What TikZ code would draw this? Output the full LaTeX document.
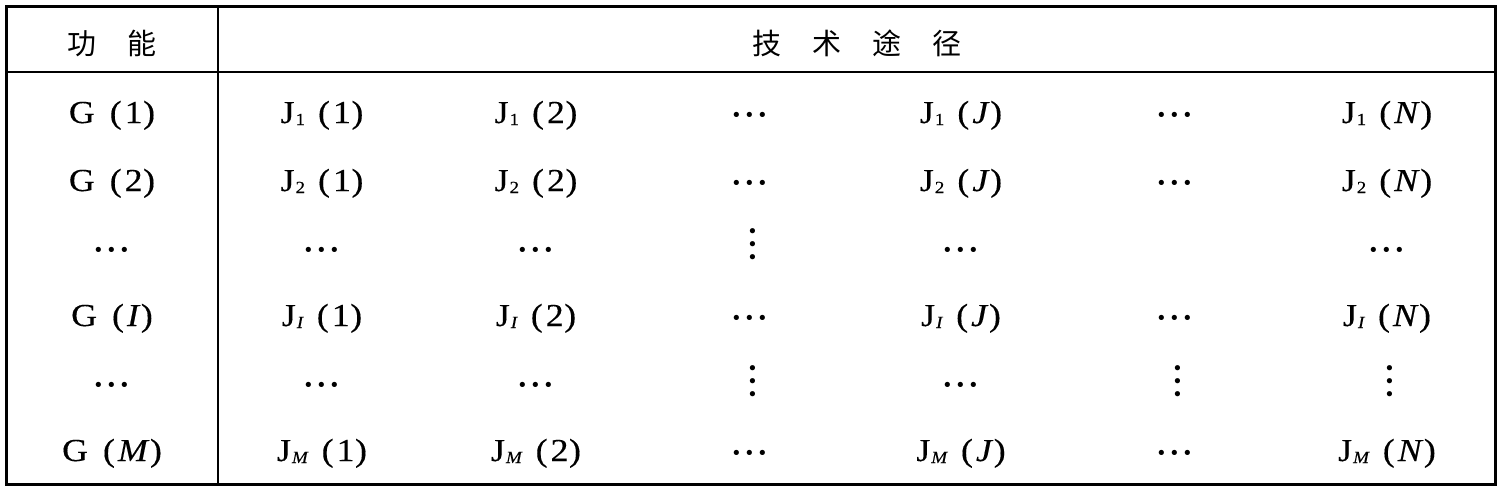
\documentclass[tikz,border=0pt]{standalone}
\usepackage{fontspec}
\setmainfont{Liberation Serif}[FakeStretch=1.12,FakeBold=0.3]
\newfontfamily\dotfont{Liberation Serif}
\newfontfamily\cjk{Noto Sans CJK SC}
\newcommand\Jcell[2]{J\hspace{1pt}\raisebox{-2pt}{\fontsize{17}{17}\selectfont #1}\hspace{13pt}(\hspace{3pt}#2\hspace{0.5pt})}
\newcommand\Gcell[1]{G\hspace{15pt}(\hspace{3pt}#1\hspace{0.5pt})}
\newcommand\hdd{\textperiodcentered\hspace{-1.6pt}\textperiodcentered\hspace{-1.6pt}\textperiodcentered}
\begin{document}
\begin{tikzpicture}[x=1pt,y=-1pt,
  cell/.style={inner sep=0pt,anchor=base,font=\fontsize{32}{32}\selectfont},
  hdots/.style={inner sep=0pt,anchor=center,font=\dotfont\fontsize{44}{44}\selectfont,text height=36pt,text depth=0pt},
  vdots/.style={hdots,rotate=90},
  head/.style={inner sep=0pt,font=\cjk\fontsize{29}{29}\selectfont}]
\useasboundingbox (0,0) rectangle (1502,490);
\fill[white] (0,0) rectangle (1502,490);
\coordinate (tl) at (6,6);
\coordinate (br) at (1495,484);
\coordinate (hl) at (6,72);
\coordinate (hr) at (1495,72);
\coordinate (vt) at (218,6);
\coordinate (vb) at (218,484);
\draw[line width=2pt] (hl) -- (hr);
\draw[line width=1.8pt] (vt) -- (vb);
\draw[line width=3pt] (tl) rectangle (br);
% header
\node[head] (h0) at (112,43) {功\hspace{32pt}能};
\node[head] (h1) at (857,43) {技\hspace{31pt}术\hspace{31pt}途\hspace{31pt}径};
% row 1 (baseline 123)
\node[cell] (r1c0) at (112,123) {\Gcell{1}};
\node[cell] (r1c1) at (322,123) {\Jcell{1}{1}};
\node[cell] (r1c2) at (536,123) {\Jcell{1}{2}};
\node[hdots] (r1c3) at (750,111) {\hdd};
\node[cell] (r1c4) at (961,123) {\Jcell{1}{\textit{J}}};
\node[hdots] (r1c5) at (1175,111) {\hdd};
\node[cell] (r1c6) at (1387,123) {\Jcell{1}{\textit{N}}};
% row 2 (baseline 191)
\node[cell] (r2c0) at (112,191) {\Gcell{2}};
\node[cell] (r2c1) at (322,191) {\Jcell{2}{1}};
\node[cell] (r2c2) at (536,191) {\Jcell{2}{2}};
\node[hdots] (r2c3) at (750,179) {\hdd};
\node[cell] (r2c4) at (961,191) {\Jcell{2}{\textit{J}}};
\node[hdots] (r2c5) at (1175,179) {\hdd};
\node[cell] (r2c6) at (1387,191) {\Jcell{2}{\textit{N}}};
% row 3
\node[hdots] (r3c0) at (112,246) {\hdd};
\node[hdots] (r3c1) at (322,246) {\hdd};
\node[hdots] (r3c2) at (536,246) {\hdd};
\node[vdots] (r3c3) at (749,244) {\hdd};
\node[hdots] (r3c4) at (961,246) {\hdd};
\node[hdots] (r3c6) at (1387,246) {\hdd};
% row 4 (baseline 326)
\node[cell] (r4c0) at (112,326) {\Gcell{\textit{I}}};
\node[cell] (r4c1) at (322,326) {\Jcell{\textit{I}}{1}};
\node[cell] (r4c2) at (536,326) {\Jcell{\textit{I}}{2}};
\node[hdots] (r4c3) at (750,314) {\hdd};
\node[cell] (r4c4) at (961,326) {\Jcell{\textit{I}}{\textit{J}}};
\node[hdots] (r4c5) at (1175,314) {\hdd};
\node[cell] (r4c6) at (1387,326) {\Jcell{\textit{I}}{\textit{N}}};
% row 5
\node[hdots] (r5c0) at (112,381) {\hdd};
\node[hdots] (r5c1) at (322,381) {\hdd};
\node[hdots] (r5c2) at (536,381) {\hdd};
\node[vdots] (r5c3) at (749,381) {\hdd};
\node[hdots] (r5c4) at (961,381) {\hdd};
\node[vdots] (r5c5) at (1174,381) {\hdd};
\node[vdots] (r5c6) at (1386,381) {\hdd};
% row 6 (baseline 461)
\node[cell] (r6c0) at (112,461) {\Gcell{\textit{M}}};
\node[cell] (r6c1) at (322,461) {\Jcell{\textit{M}}{1}};
\node[cell] (r6c2) at (536,461) {\Jcell{\textit{M}}{2}};
\node[hdots] (r6c3) at (750,449) {\hdd};
\node[cell] (r6c4) at (961,461) {\Jcell{\textit{M}}{\textit{J}}};
\node[hdots] (r6c5) at (1175,449) {\hdd};
\node[cell] (r6c6) at (1387,461) {\Jcell{\textit{M}}{\textit{N}}};
\end{tikzpicture}
\end{document}
